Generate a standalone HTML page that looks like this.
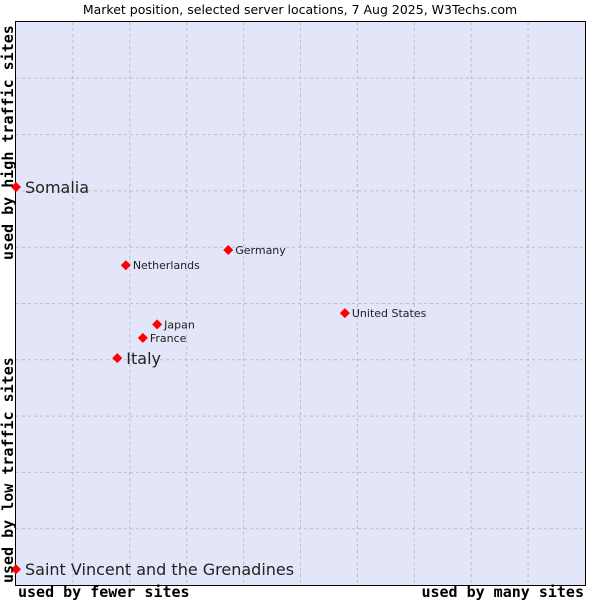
<!DOCTYPE html>
<html><head><meta charset="utf-8"><style>
body{margin:0;background:#fff;}
svg{display:block;font-family:"DejaVu Sans","Liberation Sans",sans-serif;}
</style></head><body>
<svg id="chart" width="600" height="600">
<text x="300" y="14" text-anchor="middle" font-size="12.5" fill="#000">Market position, selected server locations, 7 Aug 2025, W3Techs.com</text>
<rect x="15.5" y="21.5" width="570" height="564" fill="#e3e5f8" stroke="#000" stroke-width="1"/>
<g id="grid"></g>
<g id="points"></g>
<text x="18" y="597" font-family="DejaVu Sans Mono,Liberation Mono,monospace" font-size="15" font-weight="bold">used by fewer sites</text>
<text x="584" y="597" text-anchor="end" font-family="DejaVu Sans Mono,Liberation Mono,monospace" font-size="15" font-weight="bold">used by many sites</text>
<text transform="translate(13,583) rotate(-90)" font-family="DejaVu Sans Mono,Liberation Mono,monospace" font-size="15" font-weight="bold">used by low traffic sites</text>
<text transform="translate(13,260) rotate(-90)" font-family="DejaVu Sans Mono,Liberation Mono,monospace" font-size="15" font-weight="bold">used by high traffic sites</text>
</svg>
<script>
const names=["Somalia","Italy","Saint Vincent and the Grenadines","Netherlands","Germany","Japan","France","United States"];
const xVals=[0,17.8,0,19.3,37.3,24.8,22.3,57.8];
const yVals=[70.7,40.3,2.8,56.8,59.5,46.3,43.9,48.3];
const big=[true,true,true,false,false,false,false,false];
const X0=16,X1=585,Y0=585,Y1=22;
const sx=v=>X0+v/100*(X1-X0);
const sy=v=>Y0-v/100*(Y0-Y1);
const NS="http://www.w3.org/2000/svg";
const grid=document.getElementById('grid');
for(let i=1;i<10;i++){
 const v=document.createElementNS(NS,'line');
 v.setAttribute('x1',sx(i*10));v.setAttribute('x2',sx(i*10));v.setAttribute('y1',Y1);v.setAttribute('y2',Y0);
 v.setAttribute('stroke','#bdbdc4');v.setAttribute('stroke-dasharray','3,3');
 
 
 grid.appendChild(v);
 const h=document.createElementNS(NS,'line');
 h.setAttribute('y1',sy(i*10));h.setAttribute('y2',sy(i*10));h.setAttribute('x1',X0);h.setAttribute('x2',X1);
 h.setAttribute('stroke','#bdbdc4');h.setAttribute('stroke-dasharray','3,3');
 
 
 grid.appendChild(h);
}
const pts=document.getElementById('points');
names.forEach((n,i)=>{
 const x=sx(xVals[i]),y=sy(yVals[i]);
 const c=document.createElementNS(NS,'path');
 c.setAttribute('d',`M${x-5},${y}L${x},${y-5}L${x+5},${y}L${x},${y+5}Z`);
 c.setAttribute('fill','#f00');
 
 
 pts.appendChild(c);
 const t=document.createElementNS(NS,'text');
 t.setAttribute('x',x+(big[i]?9:7));t.setAttribute('y',y+(big[i]?6:4));
 t.setAttribute('font-size',big[i]?16:11);t.setAttribute('fill','#222');
 t.textContent=n;
 
 
 pts.appendChild(t);
});
</script>
</body></html>
